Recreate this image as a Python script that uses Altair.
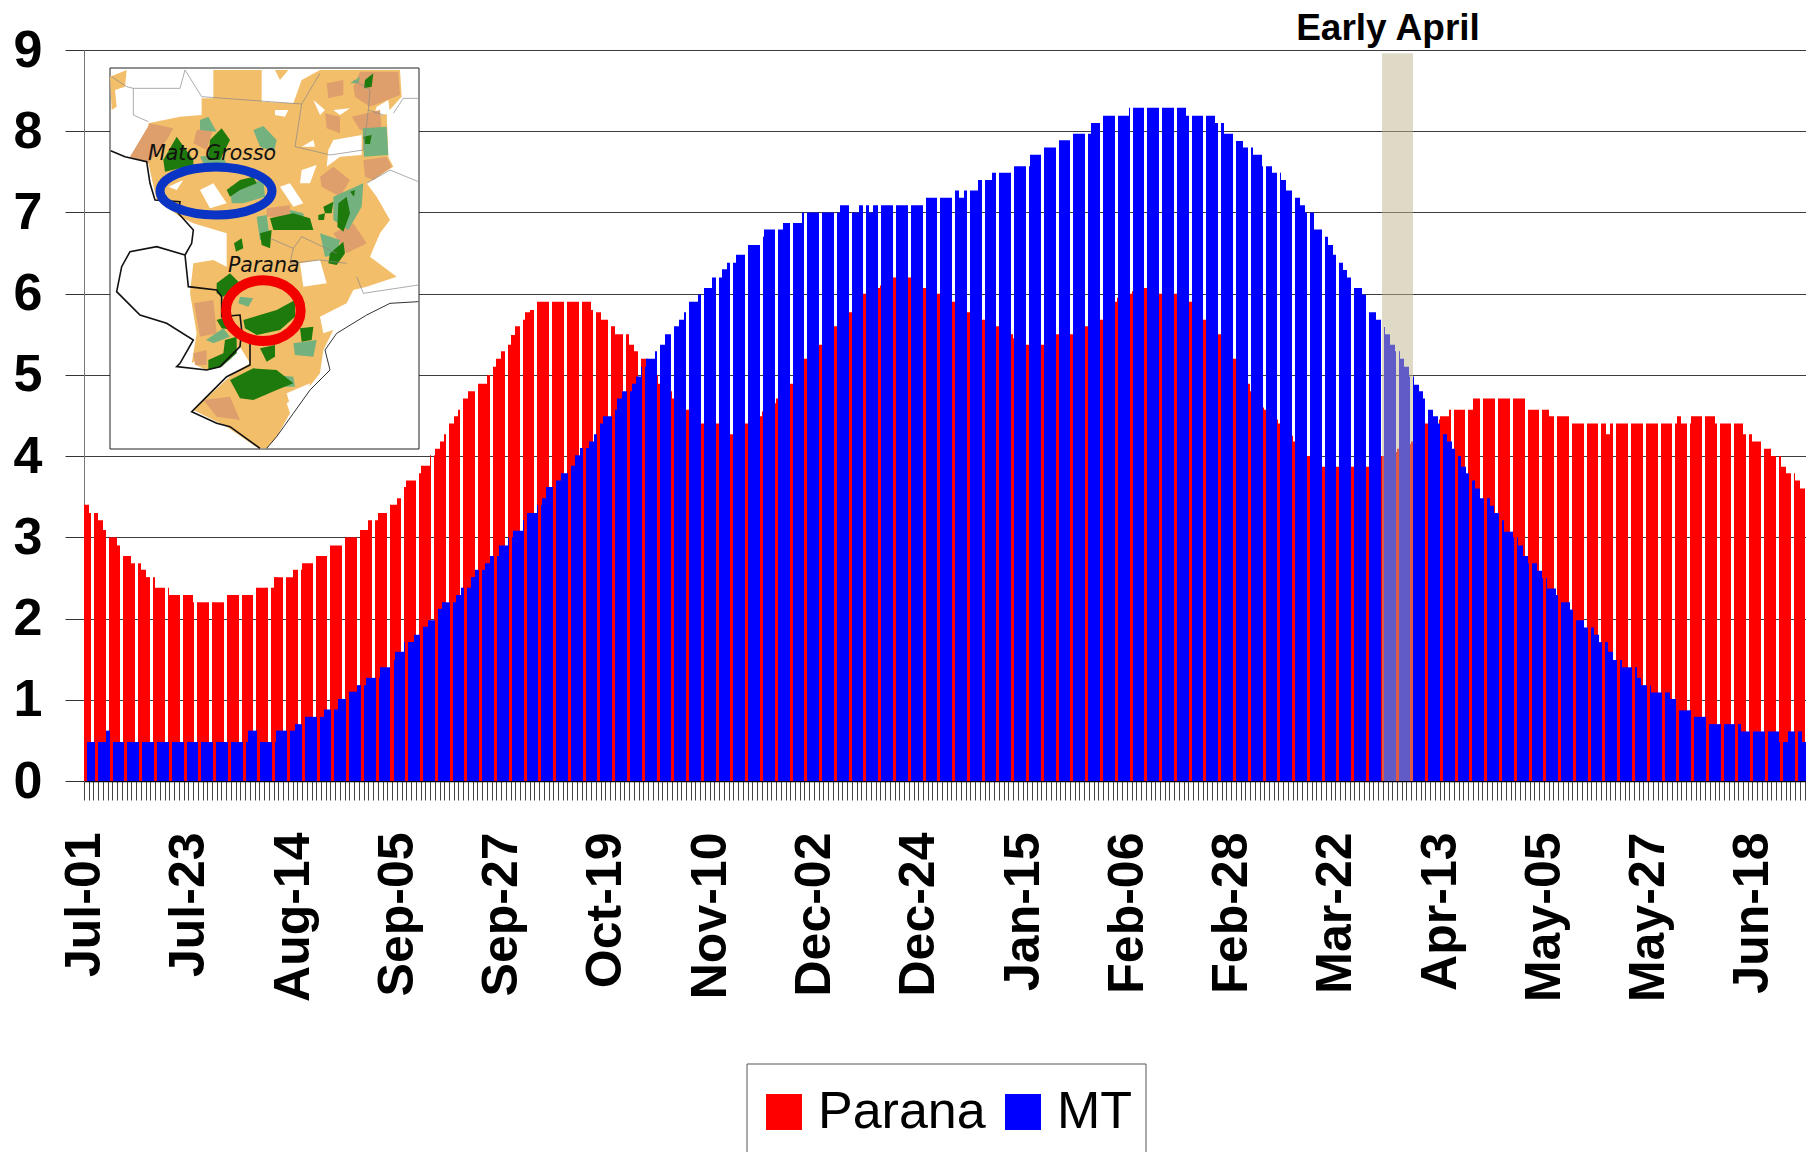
import altair as alt
import pandas as pd

parana = [
 3.4,3.3,3.3,3.21,3.09,3.0,3.0,2.9,2.77,2.77,
 2.68,2.68,2.6,2.51,2.51,2.38,2.38,2.38,2.29,2.29,
 2.29,2.29,2.29,2.2,2.2,2.2,2.2,2.2,2.2,2.2,
 2.29,2.29,2.29,2.29,2.29,2.29,2.38,2.38,2.38,2.38,
 2.51,2.51,2.51,2.51,2.6,2.6,2.68,2.68,2.68,2.77,
 2.77,2.77,2.9,2.9,2.9,3.0,3.0,3.0,3.09,3.09,
 3.21,3.21,3.3,3.3,3.4,3.4,3.48,3.62,3.7,3.7,
 3.79,3.88,3.88,4.01,4.09,4.18,4.27,4.4,4.49,4.57,
 4.71,4.8,4.8,4.89,4.89,5.0,5.1,5.2,5.29,5.37,
 5.49,5.6,5.68,5.77,5.8,5.9,5.9,5.9,5.9,5.9,
 5.9,5.9,5.9,5.9,5.9,5.9,5.9,5.8,5.77,5.68,
 5.68,5.6,5.5,5.5,5.5,5.37,5.29,5.2,5.2,5.1,
 5.0,4.89,4.85,4.8,4.71,4.68,4.6,4.57,4.5,4.45,
 4.4,4.4,4.4,4.4,4.35,4.3,4.27,4.3,4.35,4.4,
 4.4,4.45,4.49,4.55,4.6,4.65,4.71,4.77,4.83,4.89,
 5.0,5.1,5.2,5.25,5.3,5.37,5.45,5.5,5.6,5.65,
 5.7,5.77,5.85,5.9,6.0,6.0,6.05,6.07,6.1,6.15,
 6.2,6.2,6.2,6.2,6.2,6.15,6.1,6.07,6.05,6.0,
 6.0,5.95,5.9,5.9,5.85,5.8,5.77,5.75,5.7,5.68,
 5.65,5.6,5.6,5.55,5.5,5.5,5.45,5.4,5.37,5.37,
 5.37,5.37,5.37,5.4,5.45,5.5,5.5,5.5,5.5,5.5,
 5.55,5.6,5.6,5.65,5.68,5.75,5.85,5.9,5.95,6.0,
 6.0,6.03,6.05,6.07,6.07,6.05,6.0,6.0,6.0,6.0,
 6.0,5.95,5.9,5.9,5.8,5.7,5.68,5.6,5.55,5.5,
 5.4,5.3,5.2,5.1,5.0,4.89,4.8,4.7,4.6,4.57,
 4.5,4.45,4.4,4.3,4.25,4.18,4.1,4.05,4.0,3.95,
 3.9,3.87,3.87,3.87,3.87,3.87,3.87,3.87,3.87,3.87,
 3.87,3.9,3.95,4.0,4.0,4.05,4.05,4.09,4.09,4.15,
 4.18,4.25,4.3,4.4,4.4,4.45,4.49,4.49,4.57,4.57,
 4.57,4.57,4.57,4.71,4.71,4.71,4.71,4.71,4.71,4.71,
 4.71,4.71,4.71,4.71,4.57,4.57,4.57,4.57,4.57,4.49,
 4.49,4.49,4.49,4.49,4.4,4.4,4.4,4.4,4.4,4.4,
 4.4,4.27,4.4,4.4,4.4,4.4,4.4,4.4,4.4,4.4,
 4.4,4.4,4.4,4.4,4.4,4.4,4.49,4.4,4.4,4.49,
 4.49,4.49,4.49,4.49,4.4,4.4,4.4,4.4,4.4,4.4,
 4.27,4.27,4.18,4.18,4.09,4.09,4.0,4.0,3.87,3.79,
 3.79,3.7,3.6,3.6,3.48,
]

mt = [
 .48,.48,.48,.48,.62,.48,.48,.48,.48,.48,
 .48,.48,.48,.48,.48,.48,.48,.48,.48,.48,
 .48,.48,.48,.48,.48,.48,.48,.48,.48,.48,
 .48,.48,.48,.48,.62,.62,.48,.48,.48,.48,
 .62,.62,.62,.62,.7,.7,.79,.79,.79,.79,
 .88,.88,.88,1.01,1.01,1.1,1.1,1.18,1.18,1.27,
 1.27,1.27,1.4,1.4,1.49,1.59,1.59,1.71,1.71,1.8,
 1.8,1.9,1.98,1.98,2.12,2.2,2.2,2.2,2.29,2.38,
 2.38,2.51,2.6,2.6,2.68,2.77,2.77,2.9,2.9,3.0,
 3.08,3.08,3.21,3.3,3.3,3.4,3.48,3.62,3.62,3.7,
 3.79,3.79,3.88,4.01,4.1,4.1,4.18,4.27,4.4,4.49,
 4.49,4.57,4.71,4.8,4.8,4.89,4.98,5.1,5.2,5.2,
 5.29,5.37,5.5,5.5,5.6,5.68,5.77,5.9,5.9,5.99,
 6.07,6.07,6.2,6.2,6.3,6.38,6.38,6.48,6.48,6.6,
 6.6,6.6,6.7,6.79,6.79,6.79,6.79,6.87,6.87,6.87,
 6.87,7.0,7.0,7.0,7.0,7.0,7.0,7.0,7.0,7.09,
 7.09,7.0,7.0,7.09,7.09,7.0,7.09,7.09,7.09,7.09,
 7.09,7.09,7.09,7.09,7.09,7.09,7.09,7.18,7.18,7.18,
 7.18,7.18,7.18,7.27,7.18,7.27,7.27,7.27,7.4,7.4,
 7.4,7.49,7.49,7.49,7.49,7.57,7.57,7.57,7.57,7.71,
 7.71,7.71,7.8,7.8,7.8,7.89,7.89,7.89,7.97,7.97,
 7.97,7.97,8.1,8.1,8.19,8.19,8.19,8.19,8.19,8.19,
 8.29,8.29,8.29,8.29,8.29,8.29,8.29,8.29,8.29,8.29,
 8.29,8.29,8.19,8.19,8.19,8.19,8.19,8.19,8.1,8.1,
 7.97,7.97,7.88,7.88,7.8,7.8,7.71,7.71,7.57,7.57,
 7.49,7.49,7.4,7.27,7.27,7.18,7.09,7.0,7.0,6.79,
 6.79,6.7,6.6,6.48,6.38,6.29,6.2,6.07,6.07,5.99,
 5.77,5.77,5.68,5.59,5.5,5.37,5.29,5.2,5.1,4.98,
 4.88,4.8,4.71,4.57,4.49,4.4,4.27,4.18,4.09,4.0,
 3.87,3.79,3.7,3.6,3.48,3.48,3.39,3.3,3.21,3.07,
 3.07,3.0,2.9,2.77,2.68,2.68,2.59,2.5,2.37,2.37,
 2.29,2.2,2.2,2.11,1.98,1.98,1.89,1.89,1.8,1.71,
 1.71,1.59,1.49,1.49,1.4,1.4,1.4,1.27,1.18,1.18,
 1.09,1.09,1.09,1.09,1.01,1.01,.87,.87,.87,.79,
 .79,.79,.7,.7,.7,.7,.7,.7,.7,.61,
 .61,.61,.61,.61,.61,.61,.61,.48,.48,.61,
 .61,.61,.48,.48,.61,
]

tick_labels = ["Jul-01","Jul-23","Aug-14","Sep-05","Sep-27","Oct-19","Nov-10","Dec-02",
               "Dec-24","Jan-15","Feb-06","Feb-28","Mar-22","Apr-13","May-05","May-27","Jun-18"]
y_ticks = [0,1,2,3,4,5,6,7,8,9]
series_names = ["Parana","MT"]
series_colors = ["#FF0000","#0000FF"]

FONT = "Liberation Sans"
PLOT_W = 1722
DAY_PX = 4.74
X_END = PLOT_W / DAY_PX
BLUE_SHIFT = 2.6 / DAY_PX     # MT bars sit this far right of the Parana bars

# The columns of the reference's bars merge in groups of about three days,
# separated by a narrow gap. Gap geometry in day units:
GAP_PERIOD = 14.78 / DAY_PX
GAP_WIDTH = 3.0 / DAY_PX
GAP_START = 10.9 / DAY_PX
RED_GAP_OFFSET = -4.0 / DAY_PX

def pieces(a, b, off):
    """The parts of the day's span [a,b] that are not in a gap."""
    out = [(a, b)]
    k0 = int((a - GAP_START - off) // GAP_PERIOD) - 1
    for k in range(k0, k0 + 4):
        g0 = GAP_START + off + k * GAP_PERIOD
        g1 = g0 + GAP_WIDTH
        nxt = []
        for s, e in out:
            if g1 <= s or g0 >= e:
                nxt.append((s, e))
            else:
                if g0 > s:
                    nxt.append((s, g0))
                if g1 < e:
                    nxt.append((g1, e))
        out = nxt
    return out

def table(values, shift, off, name):
    rows = []
    for i, v in enumerate(values):
        for s, e in pieces(i + shift, i + 1 + shift, off):
            rows.append({"x0": s, "x1": e, "v": v, "base": 0, "series": name})
    return pd.DataFrame(rows)

red_df = table(parana, 0.0, RED_GAP_OFFSET, "Parana")
blue_df = table(mt, BLUE_SHIFT, 0.0, "MT")

days = list(range(len(parana)))
xs = alt.Scale(domain=[0, X_END], nice=False, zero=False, round=True)
ys = alt.Scale(domain=[0, 9], nice=False)
cs = alt.Scale(domain=series_names, range=series_colors)

label_js = "[" + ",".join("'%s'" % l for l in tick_labels) + "]"
x_axis = alt.Axis(values=days, tickCount=400, title=None,
                  labelExpr=f"datum.value % 22 == 0 ? {label_js}[datum.value/22] : ''",
                  labelAngle=270, labelAlign="right", labelBaseline="middle", labelFont=FONT, labelFontSize=50,
                  labelFontWeight="bold", labelColor="#000", labelPadding=32, labelOverlap=False, labelBound=False,
                  labelFlush=False, labelLimit=400, tickSize=19, tickColor="#444", tickWidth=1,
                  domainColor="#000", domainWidth=1.4, grid=False)
y_axis = alt.Axis(values=y_ticks, title=None, format="d", labelFont=FONT, labelFontSize=52, labelFontWeight="bold",
                  labelColor="#000", labelPadding=23, tickSize=19, tickColor="#333", tickWidth=1, domainColor="#777",
                  domainWidth=1, grid=True, gridColor="#333", gridWidth=1.2, gridOpacity=0.95, labelOverlap=False,
                  labelBound=False, labelFlush=False)
legend = alt.Legend(orient="none", legendX=684, legendY=1036, direction="horizontal", columns=2, title=None,
                    symbolType="square", symbolSize=1296, symbolStrokeWidth=0, symbolOffset=-10, labelFont=FONT,
                    labelFontSize=52, labelColor="#000", labelLimit=400, labelOffset=8, padding=0, columnPadding=19,
                    zindex=1)

red = alt.Chart(red_df).mark_rect().encode(
    x=alt.X("x0:Q", scale=xs, axis=x_axis), x2="x1:Q",
    y=alt.Y("v:Q", scale=ys, axis=y_axis), y2="base:Q",
    color=alt.Color("series:N", scale=cs, legend=legend))
blue = alt.Chart(blue_df).mark_rect(clip=True).encode(
    x=alt.X("x0:Q", scale=xs), x2="x1:Q", y=alt.Y("v:Q", scale=ys), y2="base:Q",
    color=alt.Color("series:N", scale=cs, legend=legend))

one = pd.DataFrame({"a": [0]})
band_df = pd.DataFrame({"s": [273.8], "e": [280.4], "t": [8.96], "b": [0.0]})
band = alt.Chart(band_df).mark_rect(color="#C0B68E", opacity=0.5).encode(
    x=alt.X("s:Q", scale=xs), x2="e:Q", y=alt.Y("t:Q", scale=ys), y2="b:Q")
early = alt.Chart(one).mark_text(text="Early April", font=FONT, fontSize=37, fontWeight="bold", color="#000",
                                 align="center").encode(x=alt.value(1304), y=alt.value(-21))

legend_box = alt.Chart(one).mark_rect(fill="#FFFFFF", stroke="#555555", strokeWidth=1).encode(
    x=alt.value(663), x2=alt.value(1062), y=alt.value(1014), y2=alt.value(1130))

box = alt.Chart(one).mark_rect(fill="#FFFFFF", stroke="#222222", strokeWidth=1).encode(
    x=alt.value(26), x2=alt.value(335), y=alt.value(18), y2=alt.value(399))

def shape(path, color=None, stroke=None, sw=1):
    kw = dict(shape=path, size=4 / 9, opacity=1)
    if color:
        kw.update(filled=True, fill=color, strokeWidth=0)
    else:
        kw.update(filled=False, stroke=stroke, strokeWidth=sw, fill="transparent")
    return alt.Chart(one).mark_point(**kw).encode(x=alt.value(-84), y=alt.value(-50))

ORANGE = "#F3BE69"; DARK = "#DE9F6C"; LG = "#73B27E"; DG = "#1E7A0C"
p_orange = ("M445 370L540 350L605 345L605 295L640 295L640 210L785 210L785 305L880 310L905 240L960 210L1200 210L1205 290L1160 340"
 "L1165 470L1180 500L1100 550L1130 590L1170 660L1140 700L1110 770L1190 830L1100 860L1060 870L1040 910L960 950L970 1000L1000 990"
 "L970 1050L960 1120L920 1170L860 1210L870 1240L830 1310L800 1345L775 1345L680 1280L580 1230L700 1120L750 1090L720 1040L620 1110"
 "L575 1090L590 1000L570 880L580 790L640 780L680 800L680 700L580 670L540 650L470 600L445 490L390 470L445 420Z"
 "M330 230L380 210L375 260L345 270L350 320L335 330Z M825 210L865 210L840 240Z")
p_white = ("M1000 420L1085 405L1085 465L1020 470L980 500L985 450Z M905 510L950 495L930 550L900 550Z M840 560L870 550L910 610L880 620Z"
 "M600 570L640 550L680 610L630 625Z M505 560L550 540L530 570Z M825 330L865 330L855 350L825 345Z M940 300L975 330L960 345Z"
 "M1130 320L1165 300L1170 340L1120 350Z M1000 330L1050 325L1020 345Z M905 440L940 420L945 440Z M900 790L960 780L980 850L910 860Z"
 "M860 1180L930 1150L920 1200L870 1215Z M790 220L800 220L795 230Z M580 1120L575 1090L590 1080Z")
p_dark = ("M390 470L450 370L520 385L500 420L445 490Z M1060 260L1080 215L1195 215L1200 285L1110 320L1065 290Z M980 250L1030 240L1030 285L985 295Z"
 "M1090 480L1160 470L1175 500L1120 540L1095 530Z M960 530L1000 500L1050 540L1020 590L965 560Z M1000 700L1060 670L1100 730L1040 760Z"
 "M582 910L640 900L650 1000L600 1010Z M580 1060L620 1050L620 1095L585 1095Z M610 1200L690 1190L720 1260L650 1250Z M800 625L870 615L870 650L800 650Z"
 "M975 340L1020 350L1020 400L980 385Z M1055 350L1140 330L1145 385L1080 390Z M590 390L640 385L620 450L580 430Z")
p_lg = ("M600 360L625 350L650 395L600 390Z M760 390L790 378L830 420L822 455L780 440Z M1088 385L1160 380L1165 465L1092 470Z M1000 590L1090 550L1085 620L1045 690L1000 660Z"
 "M770 650L800 645L810 720L780 720Z M870 630L910 640L915 680L870 685Z M960 700L1020 720L1010 765L975 770Z M618 1020L670 985L690 1010L640 1030Z"
 "M690 560L790 540L795 590L730 610L695 610Z M880 1030L950 1020L940 1070L885 1065Z M820 1125L880 1130L885 1160L820 1160Z M720 890L760 895L745 920L715 910Z"
 "M600 470L660 460L680 490L610 490Z M1050 250L1080 230L1075 250Z")
p_dg = ("M490 480L530 410L580 480L580 495L495 515Z M630 420L665 385L690 420L660 480L625 480Z M1090 410L1115 405L1110 432L1095 432Z M1095 240L1120 220L1115 260L1092 265Z"
 "M680 570L720 540L760 530L770 550L720 570L690 590Z M810 655L880 640L930 655L940 690L890 690L820 690Z M780 700L815 690L810 745L785 735Z M702 730L725 715L730 745L708 755Z"
 "M970 620L1000 605L995 640L975 640Z M1015 610L1040 590L1050 640L1030 695L1012 680Z M955 645L975 640L972 660L955 660Z M1050 575L1065 570L1062 590Z M990 760L1030 725L1035 760L1010 795L985 790Z"
 "M650 850L690 820L720 850L670 890L650 880Z M730 960L830 930L885 900L885 950L840 990L770 1005L735 985Z M900 985L940 980L935 1020L905 1025Z M650 960L695 945L700 990L665 985Z"
 "M675 1020L710 1010L710 1060L665 1100L625 1110L625 1080L670 1060Z M780 1045L825 1035L825 1070L800 1085Z M690 1140L760 1105L830 1110L880 1150L830 1170L760 1200L720 1195Z")
p_black = ("M332 452L375 470L440 485L450 550L465 600L540 605L535 640L580 690L575 730L555 765L565 860L650 870L665 890L665 950L720 945L725 990L720 1040L660 1100L620 1110L530 1100L540 1090L580 1020L500 970L420 945L350 875L365 800L390 755L470 740L555 765"
 "M750 1030L750 1095L680 1130L600 1210L575 1235L650 1270L690 1280L780 1345")
p_coast = "M1255 905L1170 910L1100 945L1010 1000L975 1050L990 1110L930 1170L880 1240L830 1310L800 1345"
p_grey = ("M335 230L380 260L400 265L540 265L555 210M400 265L400 345L445 365M555 210L605 290L905 312L960 220M905 312L885 440L950 455L990 465L1090 450L1105 330L1110 270M1110 270L1060 240"
 "M1105 330L1150 345M810 715L880 745L905 710L1010 760M880 745L870 790L960 780L1040 790M1070 830L1090 880L1255 855M1100 550L1170 510L1255 545M1180 340L1210 295L1255 295")
p_blue = "M480 573A168 72 0 1 1 816 573A168 72 0 1 1 480 573Z"
p_redring = "M678 932A112 91 0 1 1 902 932A112 91 0 1 1 678 932Z"

map_layers = [shape(p_orange, ORANGE), shape(p_white, "#FFFFFF"), shape(p_dark, DARK), shape(p_lg, LG), shape(p_dg, DG),
              shape(p_grey, stroke="#888888", sw=0.7), shape(p_coast, stroke="#333333", sw=1), shape(p_black, stroke="#111111", sw=1.6),
              shape(p_blue, stroke="#0A35C4", sw=9), shape(p_redring, stroke="#F20000", sw=10)]

mato = alt.Chart(one).mark_text(text="Mato Grosso", font="DejaVu Sans", fontStyle="italic", fontSize=20.5, color="#111",
                                align="left", baseline="alphabetic").encode(x=alt.value(64), y=alt.value(110))
par = alt.Chart(one).mark_text(text="Parana", font="DejaVu Sans", fontStyle="italic", fontSize=20.5, color="#111",
                               align="left", baseline="alphabetic").encode(x=alt.value(144), y=alt.value(222))
usda = alt.Chart(one).mark_text(text="USDA", font=FONT, fontWeight="bold", fontSize=15, color="#1F3A93", align="left",
                                baseline="top").encode(x=alt.value(-76), y=alt.value(1100))

chart = alt.layer(red, blue, band, early, legend_box, box, *map_layers, mato, par, usda).properties(
    width=PLOT_W, height=731,
    padding={"left": 76, "top": 42, "right": 0, "bottom": 371},
    autosize=alt.AutoSizeParams(type="none"),
).configure_view(stroke=None).configure(background="#FFFFFF")

assert len(parana) == 365 and len(mt) == 365, (len(parana), len(mt))
chart.save("out.html", embed_options={"renderer": "svg", "actions": False})
